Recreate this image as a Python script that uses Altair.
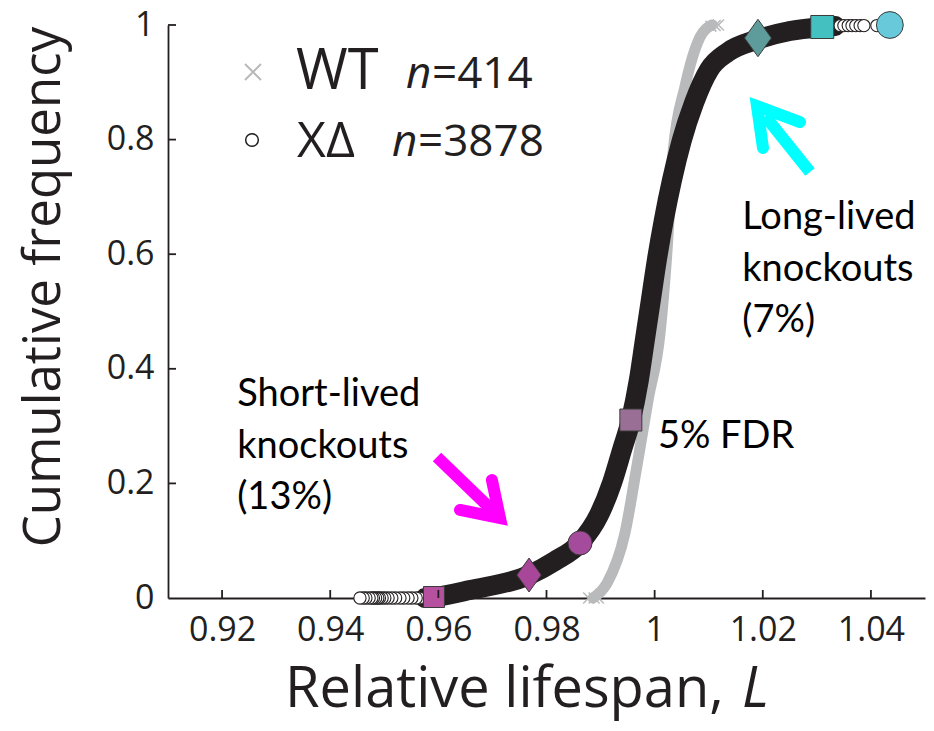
import altair as alt
import pandas as pd

# ---------------- data ----------------
# knockout (xΔ) cumulative distribution (thick band)
ko_L = [0.95753, 0.95919, 0.96585, 0.97677, 0.98157, 0.98620, 0.98971, 0.99211, 0.99396,
        0.99560, 0.99708, 0.99819, 0.99930, 1.00041, 1.00170, 1.00321, 1.00504, 1.00728,
        1.01005, 1.01357, 1.01874, 1.02500, 1.03100, 1.03340]
ko_F = [0.0000, 0.0017, 0.0140, 0.0401, 0.0646, 0.0960, 0.1449, 0.2007, 0.2583,
        0.3106, 0.3805, 0.4503, 0.5201, 0.5899, 0.6597, 0.7295, 0.7993, 0.8639,
        0.9215, 0.9529, 0.9738, 0.9895, 0.9965, 0.9983]
# wild type cumulative distribution
wt_L = [0.9886, 0.9912, 0.9945, 0.9967, 0.9988, 1.0010, 1.0023, 1.0034, 1.0056,
        1.0084, 1.0106]
wt_F = [0.000, 0.026, 0.113, 0.229, 0.346, 0.462, 0.607, 0.777, 0.892,
        0.979, 1.000]
# individual extreme knockouts (open circles)
ko_tail_L = [0.9572, 0.9565, 0.9559, 0.9551, 0.9544, 0.9536, 0.9529, 0.9521, 0.9514,
             0.9507, 0.9501, 0.9496, 0.9491, 0.9488, 0.9484, 0.9480, 0.9477, 0.9472,
             0.9466, 0.9461, 0.9455,
             1.0343, 1.0350, 1.0358, 1.0365, 1.0372, 1.0380, 1.0387, 1.0411]
ko_tail_F = [0.0] * 21 + [0.999] * 8
# individual extreme wild types (crosses)
wt_tail_L = [0.9878, 0.9888, 0.9896, 1.0104, 1.0112, 1.0118]
wt_tail_F = [0.0, 0.0, 0.0, 0.998, 0.999, 1.0]
# highlighted knockouts
hl_name = ["short_sq", "short_di", "short_ci", "fdr_sq", "long_di", "long_sq", "long_ci"]
hl_L = [0.95919, 0.97677, 0.98620, 0.99560, 1.01911, 1.03100, 1.04350]
hl_F = [0.0017, 0.0401, 0.0960, 0.3106, 0.9773, 0.9965, 1.0000]

x_ticks = [0.92, 0.94, 0.96, 0.98, 1.00, 1.02, 1.04]
y_ticks = [0.0, 0.2, 0.4, 0.6, 0.8, 1.0]

# annotation arrows (tail -> shaft end, and head polyline barb-tip-barb)
mag_shaft_L = [0.95975, 0.97011]
mag_shaft_F = [0.2461, 0.1518]
mag_head_L = [0.9640, 0.97140, 0.9699]
mag_head_F = [0.1536, 0.1396, 0.2059]
cy_shaft_L = [1.02873, 1.02041]
cy_shaft_F = [0.7435, 0.8412]
cy_head_L = [1.02004, 1.01893, 1.02688]
cy_head_F = [0.7853, 0.8586, 0.8307]

notes_text = ["Short-lived\nknockouts\n(13%)", "Long-lived\nknockouts\n(7%)", "5% FDR"]
notes_L = [0.9228, 1.0162, 1.0006]
notes_F = [0.354, 0.663, 0.281]

# ---------------- styles ----------------
INK = "#231f20"
GREY = "#b9babc"
FONT = "Open Sans"
NOTE_FONT = "Lato"
DIAMOND = "M-0.72,0L0,-1L0.72,0L0,1Z"
hl_style = {
    "short_sq": dict(shape="square", color="#b5519f", size=441),
    "short_di": dict(shape=DIAMOND, color="#a8479a", size=1150),
    "short_ci": dict(shape="circle", color="#a54b9c", size=580),
    "fdr_sq": dict(shape="square", color="#9a6f96", size=484),
    "long_di": dict(shape=DIAMOND, color="#5e9c9c", size=1400),
    "long_sq": dict(shape="square", color="#45c0c0", size=530),
    "long_ci": dict(shape="circle", color="#68c9db", size=720),
}

xs = alt.Scale(domain=[0.91, 1.05], nice=False, zero=False)
ys = alt.Scale(domain=[0, 1], nice=False, zero=False)
xaxis = alt.Axis(values=x_ticks, format="~g", ticks=False, grid=False,
                 labelFontSize=34, labelFont=FONT, labelColor=INK, labelPadding=15,
                 domainColor=INK, domainWidth=1.8, title=None, labelFlush=False)
yaxis = alt.Axis(values=y_ticks, format="~g", ticks=False, grid=False,
                 labelFontSize=34, labelFont=FONT, labelColor=INK, labelPadding=14,
                 domainColor=INK, domainWidth=1.8, title=None, labelFlush=False)


def X(f):
    return alt.X(f, type="quantitative", scale=xs, axis=xaxis, title=None)


def Y(f):
    return alt.Y(f, type="quantitative", scale=ys, axis=yaxis, title=None)


ko_df = pd.DataFrame({"L": ko_L, "F": ko_F, "o": range(len(ko_L))})
wt_df = pd.DataFrame({"L": wt_L, "F": wt_F, "o": range(len(wt_L))})
kt_df = pd.DataFrame({"L": ko_tail_L, "F": ko_tail_F})
wtt_df = pd.DataFrame({"L": wt_tail_L, "F": wt_tail_F})

wt_line = alt.Chart(wt_df).mark_line(color=GREY, strokeWidth=11, interpolate="monotone",
                                     strokeCap="round").encode(x=X("L"), y=Y("F"), order="o:Q")
wt_pts = alt.Chart(wtt_df).mark_point(shape="M-1,-1L1,1M-1,1L1,-1", size=120, color=GREY,
                                      strokeWidth=1.5, filled=False, opacity=1).encode(x=X("L"), y=Y("F"))
ko_line = alt.Chart(ko_df).mark_line(color=INK, strokeWidth=20, interpolate="monotone",
                                     strokeCap="round").encode(x=X("L"), y=Y("F"), order="o:Q")
ko_pts = alt.Chart(kt_df).mark_point(shape="circle", size=150, stroke=INK, fill="white",
                                     strokeWidth=1.1, filled=False, fillOpacity=1,
                                     opacity=1).encode(x=X("L"), y=Y("F"))

hl_layers = []
for n, l, f in zip(hl_name, hl_L, hl_F):
    st = hl_style[n]
    d = pd.DataFrame({"L": [l], "F": [f]})
    hl_layers.append(
        alt.Chart(d).mark_point(shape=st["shape"], size=st["size"], fill=st["color"],
                                filled=True, stroke="#3a3a3a", strokeWidth=1,
                                opacity=1, fillOpacity=1).encode(x=X("L"), y=Y("F")))

xt_df = pd.DataFrame({"v": x_ticks})
yt_df = pd.DataFrame({"v": [v for v in y_ticks if v > 0]})
xtick = alt.Chart(xt_df).mark_rule(color=INK, strokeWidth=1.8).encode(
    x=X("v"), y=alt.value(573), y2=alt.value(565))
ytick = alt.Chart(yt_df).mark_rule(color=INK, strokeWidth=1.8).encode(
    y=Y("v"), x=alt.value(0), x2=alt.value(8))


def arrow(sL, sF, hL, hF, color):
    sd = pd.DataFrame({"L": sL, "F": sF, "o": range(len(sL))})
    hd = pd.DataFrame({"L": hL, "F": hF, "o": range(len(hL))})
    shaft = alt.Chart(sd).mark_line(color=color, strokeWidth=12, strokeCap="butt").encode(
        x=X("L"), y=Y("F"), order="o:Q")
    head = alt.Chart(hd).mark_line(color=color, strokeWidth=12, strokeCap="round",
                                   strokeJoin="miter", strokeMiterLimit=10).encode(
        x=X("L"), y=Y("F"), order="o:Q")
    return [shaft, head]


notes_df = pd.DataFrame({"t": notes_text, "L": notes_L, "F": notes_F})
notes = alt.Chart(notes_df).mark_text(align="left", baseline="middle", font=NOTE_FONT,
                                      fontSize=38, lineHeight=51.5, lineBreak="\n",
                                      color="black").encode(x=X("L"), y=Y("F"), text="t:N")

# legend (drawn by hand, as in the figure)
leg_x = alt.Chart(pd.DataFrame({"k": ["wt"]})).mark_point(
    shape="M-1,-1L1,1M-1,1L1,-1", size=256, color=GREY, strokeWidth=2, filled=False,
    opacity=1).encode(x=alt.value(85), y=alt.value(47))
leg_o = alt.Chart(pd.DataFrame({"k": ["ko"]})).mark_point(
    shape="circle", size=160, color=INK, strokeWidth=1.5, filled=False,
    opacity=1).encode(x=alt.value(84), y=alt.value(115))


def ltext(t, x, y, size, style="normal", angle=0, align="left"):
    return alt.Chart(pd.DataFrame({"t": [t]})).mark_text(
        align=align, baseline="middle", font=FONT, fontSize=size, fontStyle=style,
        angle=angle, color=INK).encode(x=alt.value(x), y=alt.value(y), text="t:N")


legend = [leg_x, leg_o,
          ltext("WT", 128, 47, 56),
          ltext("n", 238, 50, 44, "italic"),
          ltext("=414", 264, 50, 44),
          ltext("XΔ", 129, 117, 50),
          ltext("n", 224, 118, 44, "italic"),
          ltext("=3878", 250, 118, 44)]

titles = [ltext("Relative lifespan,", 117, 665, 56),
          ltext("L", 574, 665, 56, "italic"),
          ltext("Cumulative frequency", -123, 262, 51, angle=270, align="center")]

layers = ([wt_line, wt_pts, ko_line, ko_pts] + hl_layers + [xtick, ytick]
          + arrow(mag_shaft_L, mag_shaft_F, mag_head_L, mag_head_F, "#ff00ff")
          + arrow(cy_shaft_L, cy_shaft_F, cy_head_L, cy_head_F, "#00ffff")
          + [notes] + legend + titles)

chart = alt.layer(*layers).properties(
    width=757, height=573,
    autosize=alt.AutoSizeParams(type="none"),
    padding={"left": 168, "top": 25, "right": 9, "bottom": 133},
    background="white",
).configure_view(stroke=None)

chart.save("out.html", embed_options={"renderer": "svg", "actions": False})
